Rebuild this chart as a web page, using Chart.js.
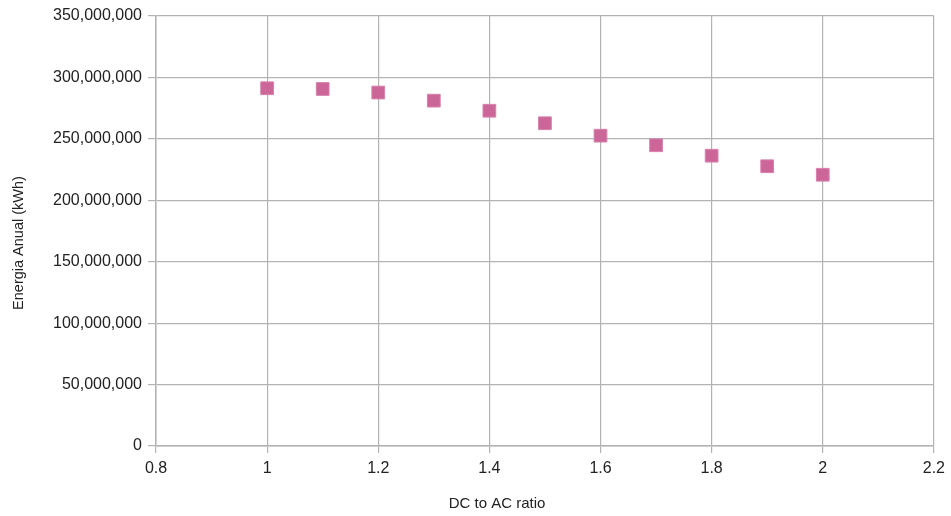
<!DOCTYPE html>
<html>
<head>
<meta charset="utf-8">
<script src="https://cdn.jsdelivr.net/npm/chart.js@4/dist/chart.umd.min.js"></script>
<style>
  html, body { margin: 0; padding: 0; background: #fff; }
  #wrap { width: 951px; height: 516px; position: relative; }
</style>
</head>
<body>
<div id="wrap"><canvas id="energyChart"></canvas></div>
<script>
// DC to AC ratio vs annual energy
const ratios = [1.0, 1.1, 1.2, 1.3, 1.4, 1.5, 1.6, 1.7, 1.8, 1.9, 2.0];
const energyKWh = [291200000, 290600000, 287700000, 281100000, 272900000, 262700000,
                   252600000, 244800000, 236300000, 227700000, 220800000];

const xTicks = [0.8, 1, 1.2, 1.4, 1.6, 1.8, 2, 2.2];
const yTicks = [0, 50000000, 100000000, 150000000, 200000000, 250000000, 300000000, 350000000];

const xTitle = 'DC to AC ratio';
const yTitle = 'Energia Anual (kWh)';

const gridColor = '#b3b3b3';
const textColor = '#222';
const fontFamily = '"Liberation Sans", Arial, sans-serif';

Chart.defaults.font.family = fontFamily;
Chart.defaults.font.size = 16;
Chart.defaults.color = textColor;

const points = ratios.map((r, i) => ({ x: r, y: energyKWh[i] }));

// axis titles drawn by hand: the original ones are centred on the page, not on the plot
const axisTitlePlugin = {
    id: 'axisTitles',
    afterDraw(chart) {
        const ctx = chart.ctx;
        ctx.save();
        ctx.fillStyle = textColor;
        ctx.textAlign = 'center';
        ctx.textBaseline = 'middle';

        ctx.font = '15px ' + fontFamily;
        ctx.fillText(xTitle, 497, 504);

        ctx.translate(19, 243);
        ctx.rotate(-Math.PI / 2);
        ctx.font = '14.5px ' + fontFamily;
        ctx.fillText(yTitle, 0, 0);
        ctx.restore();
    }
};

new Chart(document.getElementById('energyChart').getContext('2d'), {
    type: 'scatter',
    data: {
        datasets: [{
            label: 'Energia Anual',
            data: points,
            pointStyle: 'rect',
            pointRadius: 9,
            pointHoverRadius: 9,
            backgroundColor: '#cc6699',
            borderColor: '#d680ad',
            borderWidth: 1
        }]
    },
    plugins: [axisTitlePlugin],
    options: {
        responsive: true,
        maintainAspectRatio: false,
        animation: false,
        layout: { padding: { top: 16, right: 17, left: 0, bottom: 0 } },
        plugins: {
            legend: { display: false },
            tooltip: { enabled: false }
        },
        scales: {
            x: {
                type: 'linear',
                min: 0.8,
                max: 2.2,
                afterBuildTicks: (scale) => { scale.ticks = xTicks.map(v => ({ value: v })); },
                afterFit: (scale) => { scale.height = 70; },
                ticks: {
                    padding: 6,
                    color: textColor,
                    callback: (v) => String(Math.round(v * 10) / 10)
                },
                grid: { color: gridColor, tickLength: 7, lineWidth: 1.2 },
                border: { color: gridColor, width: 1.5 }
            },
            y: {
                type: 'linear',
                min: 0,
                max: 350000000,
                afterBuildTicks: (scale) => { scale.ticks = yTicks.map(v => ({ value: v })); },
                afterFit: (scale) => { scale.width = 156; },
                ticks: {
                    padding: 6,
                    color: textColor,
                    callback: (v) => v.toLocaleString('en-US')
                },
                grid: { color: gridColor, tickLength: 8, lineWidth: 1.2 },
                border: { color: gridColor, width: 1.5 }
            }
        }
    }
});
</script>
</body>
</html>
